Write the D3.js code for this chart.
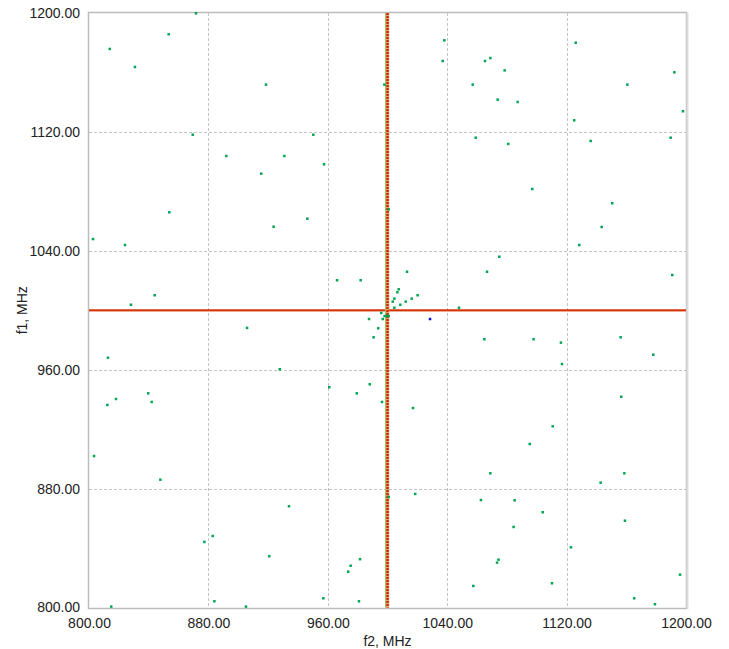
<!DOCTYPE html>
<html>
<head>
<meta charset="utf-8">
<script src="https://cdn.jsdelivr.net/npm/d3@7"></script>
<style>
	body { margin: 0; background: #fff; }
	text { font-family: "Liberation Sans", Arial, sans-serif; font-size: 14px; fill: #222; }
</style>
</head>
<body>
<div class="container"></div>
<script>

// tick values, MHz
let xTicks = [800, 880, 960, 1040, 1120, 1200]
let yTicks = [800, 880, 960, 1040, 1120, 1200]

// markers: f2 = 1000 MHz (vertical), f1 = 1000 MHz (horizontal)
let markerF2 = 1000
let markerF1 = 1000

// green points, [f2, f1] in MHz
let f2 = [871.7, 853.4, 813.9, 830.8, 869.5, 892.0, 853.8, 918.6, 997.9, 1038.1,
	1037.0, 1065.3, 1068.9, 1057.1, 1073.8, 950.3, 1059.1, 930.9, 957.5, 915.4,
	1000.8, 946.3, 1078.5, 1087.2, 1126.1, 1192.2, 1160.7, 1198.0, 1125.1, 1080.9,
	1136.1, 1189.7, 1097.0, 1150.6, 802.7, 824.1, 844.0, 828.1, 905.9, 812.7,
	839.7, 818.1, 812.3, 842.0, 923.7, 966.2, 982.0, 1013.1, 1066.7, 1074.9,
	1007.5, 1006.6, 1004.6, 1003.5, 1020.2, 1016.2, 1012.2, 1008.6, 1004.6, 1047.9,
	995.8, 998.1, 999.5, 1000.8, 987.6, 996.8, 993.8, 990.7, 1064.9, 927.8,
	961.0, 988.1, 979.4, 996.3, 1017.1, 1143.5, 1128.5, 1190.8, 1097.9, 1116.2,
	1156.2, 1178.1, 1116.9, 1156.6, 1110.7, 934.0, 920.8, 957.0, 973.7, 975.3,
	981.6, 980.9, 1000.8, 1018.6, 1068.9, 1062.6, 1073.4, 1074.4, 1057.5, 1095.3,
	1158.7, 1142.8, 1085.2, 1104.0, 1159.1, 1084.5, 1122.9, 1110.2, 1196.0, 1165.3,
	1179.2, 803.4, 847.8, 877.3, 882.9, 884.0, 814.9, 905.2]
let f1 = [1199.8, 1185.7, 1175.8, 1163.7, 1118.1, 1103.8, 1065.9, 1151.8, 1151.8, 1181.6,
	1167.7, 1167.7, 1169.7, 1151.8, 1141.7, 1118.1, 1116.1, 1103.8, 1098.2, 1091.9,
	1067.9, 1061.6, 1161.4, 1140.1, 1180.0, 1160.1, 1151.8, 1133.9, 1127.8, 1111.9,
	1113.9, 1116.1, 1081.6, 1072.0, 1047.9, 1043.9, 1010.1, 1003.7, 988.1, 968.1,
	944.1, 940.3, 936.3, 938.3, 1056.2, 1020.2, 1020.2, 1025.9, 1025.9, 1036.0,
	1014.1, 1012.1, 1007.8, 1005.8, 1010.1, 1007.8, 1005.8, 1003.7, 1001.7, 1001.7,
	998.2, 996.1, 996.1, 996.1, 994.1, 994.1, 987.9, 981.8, 980.5, 960.3,
	948.2, 950.2, 944.1, 938.3, 934.2, 1056.0, 1043.9, 1023.7, 980.5, 978.2,
	981.8, 970.1, 963.8, 941.8, 921.9, 868.1, 834.5, 806.2, 824.1, 828.1,
	832.5, 804.2, 874.4, 876.4, 890.3, 872.3, 830.2, 832.2, 814.5, 910.0,
	890.3, 884.0, 872.1, 864.1, 858.4, 854.2, 840.5, 816.3, 822.1, 806.2,
	802.2, 901.9, 886.0, 844.1, 848.1, 804.2, 800.6, 800.6]

// the single blue point
let blueF2 = [1028.5]
let blueF1 = [994.1]

const W = 729, H = 649
const pLeft = 89, pRight = 686, pTop = 13, pBottom = 607.5

let svg = d3.select('.container')
	.append('svg')
	.attr('width', W)
	.attr('height', H)

let x = d3.scaleLinear().domain([800, 1200]).range([pLeft, pRight])
let y = d3.scaleLinear().domain([800, 1200]).range([pBottom, pTop])

// grid
svg.append('g')
	.selectAll('line')
	.data(xTicks.slice(1, -1))
	.join('line')
	.attr('x1', d => Math.round(x(d)) + 0.5)
	.attr('x2', d => Math.round(x(d)) + 0.5)
	.attr('y1', pTop)
	.attr('y2', pBottom)
	.attr('stroke', '#c4c4c4')
	.attr('stroke-dasharray', '3,2')

svg.append('g')
	.selectAll('line')
	.data(yTicks.slice(1, -1))
	.join('line')
	.attr('x1', pLeft)
	.attr('x2', pRight)
	.attr('y1', d => Math.round(y(d)) + 0.5)
	.attr('y2', d => Math.round(y(d)) + 0.5)
	.attr('stroke', '#c4c4c4')
	.attr('stroke-dasharray', '3,2')

// frame
svg.append('rect')
	.attr('x', pLeft - 0.5)
	.attr('y', pTop - 0.5)
	.attr('width', pRight - pLeft + 1)
	.attr('height', pBottom - pTop + 1.5)
	.attr('fill', 'none')
	.attr('stroke', '#bcbcbc')
	.attr('stroke-width', 1.5)

svg.append('line')
	.attr('x1', pRight + 1.5).attr('x2', pRight + 1.5)
	.attr('y1', pTop).attr('y2', pBottom + 1.5)
	.attr('stroke', '#dddddd')
	.attr('stroke-width', 2)

// axes
let xAxis = d3.axisBottom(x).tickValues(xTicks).tickFormat(d3.format('.2f')).tickSize(0).tickPadding(11)
let yAxis = d3.axisLeft(y).tickValues(yTicks).tickFormat(d3.format('.2f')).tickSize(0).tickPadding(9)

let gx = svg.append('g').attr('transform', 'translate(0,' + pBottom + ')').call(xAxis)
let gy = svg.append('g').attr('transform', 'translate(' + pLeft + ',0)').call(yAxis)
gx.select('.domain').remove()
gy.select('.domain').remove()
svg.selectAll('.tick text').attr('font-size', 14).attr('font-family', '"Liberation Sans", Arial, sans-serif').attr('fill', '#222')

svg.append('text')
	.attr('x', (pLeft + pRight) / 2)
	.attr('y', 646)
	.attr('text-anchor', 'middle')
	.text('f2, MHz')

svg.append('text')
	.attr('transform', 'translate(27,' + ((pTop + pBottom) / 2) + ') rotate(-90)')
	.attr('text-anchor', 'middle')
	.text('f1, MHz')

// horizontal marker
svg.append('line')
	.attr('x1', pLeft).attr('x2', pRight)
	.attr('y1', y(markerF1) + 1).attr('y2', y(markerF1) + 1)
	.attr('stroke', '#f2c4b4')
	.attr('stroke-width', 1)
svg.append('line')
	.attr('x1', pLeft).attr('x2', pRight)
	.attr('y1', y(markerF1)).attr('y2', y(markerF1))
	.attr('stroke', '#d8340a')
	.attr('stroke-width', 2.2)

// vertical marker (striped)
let vx = x(markerF2)
svg.append('line')
	.attr('x1', vx - 2).attr('x2', vx - 2)
	.attr('y1', pTop).attr('y2', pBottom)
	.attr('stroke', '#7ccf6a')
	.attr('stroke-width', 1)
svg.append('line')
	.attr('x1', vx).attr('x2', vx)
	.attr('y1', pTop).attr('y2', pBottom)
	.attr('stroke', '#f0a070')
	.attr('stroke-width', 3.5)
svg.append('line')
	.attr('x1', vx).attr('x2', vx)
	.attr('y1', pTop).attr('y2', pBottom)
	.attr('stroke', '#c43200')
	.attr('stroke-width', 2.5)
	.attr('stroke-dasharray', '2,1')

// points
let pts = f2.map((d, i) => [d, f1[i]])
svg.append('g')
	.selectAll('rect')
	.data(pts)
	.join('rect')
	.attr('x', d => x(d[0]) - 1.25)
	.attr('y', d => y(d[1]) - 1.25)
	.attr('width', 2.5)
	.attr('height', 2.5)
	.attr('fill', '#00a651')

svg.append('g')
	.selectAll('rect')
	.data(blueF2.map((d, i) => [d, blueF1[i]]))
	.join('rect')
	.attr('x', d => x(d[0]) - 1.25)
	.attr('y', d => y(d[1]) - 1.25)
	.attr('width', 2.5)
	.attr('height', 2.5)
	.attr('fill', '#1010e0')

</script>
</body>
</html>
